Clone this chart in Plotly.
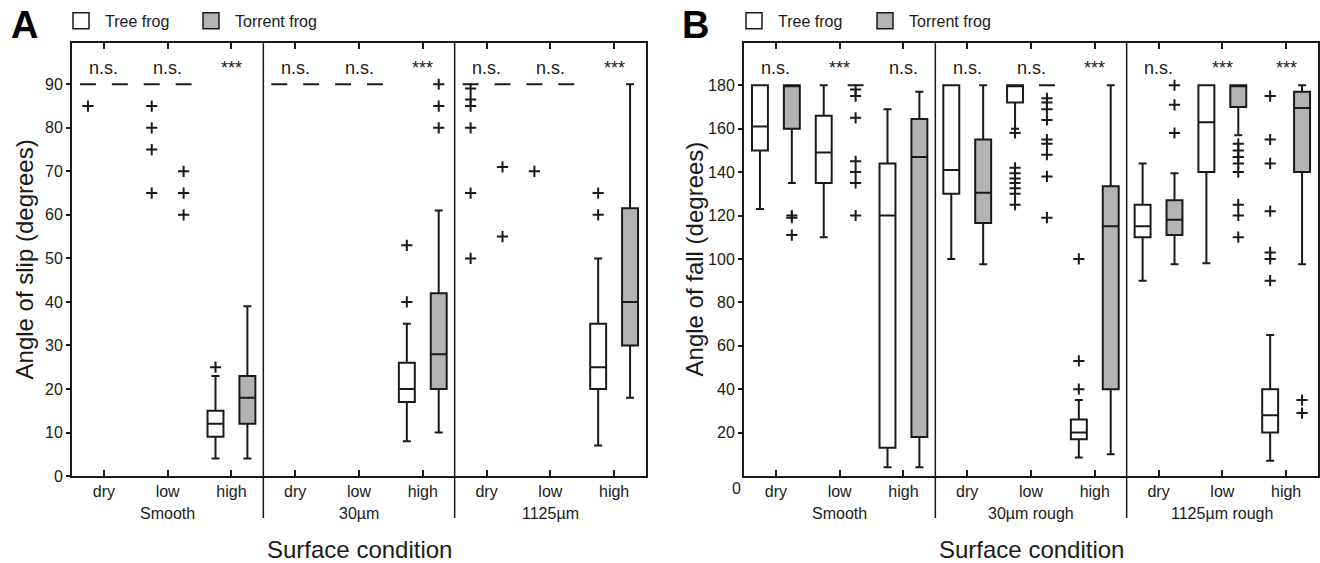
import plotly.graph_objects as go

# ---------------- data ----------------
conditions = ["dry", "low", "high"]
surfaces_A = ["Smooth", "30µm", "1125µm"]
surfaces_B = ["Smooth", "30µm rough", "1125µm rough"]
species = ["Tree frog", "Torrent frog"]

# Panel A: angle of slip (order: Smooth dry/low/high, 30µm dry/low/high, 1125µm dry/low/high)
A_tree_q1 = [90, 90, 9, 90, 90, 17, 90, 90, 20]
A_tree_med = [90, 90, 12, 90, 90, 20, 90, 90, 25]
A_tree_q3 = [90, 90, 15, 90, 90, 26, 90, 90, 35]
A_tree_lo = [90, 90, 4, 90, 90, 8, 90, 90, 7]
A_tree_hi = [90, 90, 23, 90, 90, 35, 90, 90, 50]
A_tree_out = [[85], [85, 80, 75, 65], [25], [], [], [53, 40],
              [89, 86.5, 85, 80, 65, 50], [70], [65, 60]]

A_tor_q1 = [90, 90, 12, 90, 90, 20, 90, 90, 30]
A_tor_med = [90, 90, 18, 90, 90, 28, 90, 90, 40]
A_tor_q3 = [90, 90, 23, 90, 90, 42, 90, 90, 61.5]
A_tor_lo = [90, 90, 4, 90, 90, 10, 90, 90, 18]
A_tor_hi = [90, 90, 39, 90, 90, 61, 90, 90, 90]
A_tor_out = [[], [70, 65, 60], [], [], [], [90, 85, 80], [71, 55], [], []]

A_sig = ["n.s.", "n.s.", "***", "n.s.", "n.s.", "***", "n.s.", "n.s.", "***"]
A_yticks = [0, 10, 20, 30, 40, 50, 60, 70, 80, 90]

# Panel B: angle of fall
B_tree_q1 = [150, 135, 13, 130, 172, 17, 110, 140, 20]
B_tree_med = [161, 149, 120, 141, 180, 20, 115, 163, 28]
B_tree_q3 = [180, 166, 144, 180, 180, 26, 125, 180, 40]
B_tree_lo = [123, 110, 4, 100, 160, 8.5, 90, 98, 7]
B_tree_hi = [180, 180, 169, 180, 180, 35, 144, 180, 65]
B_tree_out = [[], [], [], [], [158, 142, 139.5, 137, 135, 132.5, 130, 125],
              [100, 53, 40], [], [], [175, 155, 144, 122, 103, 100, 90]]

B_tor_q1 = [160, 180, 18, 116.5, 180, 40, 111, 170, 140]
B_tor_med = [180, 180, 147, 130.5, 180, 115, 118, 180, 169.5]
B_tor_q3 = [180, 180, 164.5, 155, 180, 133.5, 127, 180, 177]
B_tor_lo = [135, 180, 4, 97.5, 180, 10, 97.5, 157, 97.5]
B_tor_hi = [180, 180, 177, 180, 180, 180, 139.5, 180, 180]
B_tor_out = [[120, 119, 111], [178, 175, 165, 145, 140, 135, 120], [], [],
             [174, 172, 169, 164, 155, 153, 148, 138, 119], [],
             [180, 171, 158], [153, 150, 147, 144, 140, 125, 120, 110], [35, 29]]

B_sig = ["n.s.", "***", "n.s.", "n.s.", "n.s.", "***", "n.s.", "***", "***"]
B_yticks = [20, 40, 60, 80, 100, 120, 140, 160, 180]

# ---------------- styling ----------------
W, H = 1320, 563
YS = 0.986  # vertical scale observed between the page and the captured picture
FONT = "Liberation Sans, Arial, sans-serif"
INK = "#1a1a1a"
TREE_FILL = "#ffffff"
TOR_FILL = "#b3b3b3"
OFFSET = 0.25
BOXW = 0.25


def px_x(p):
    return p / W


def px_y(p):
    return 1 - (p / YS) / H


fig = go.Figure()


def add_boxes(xa, ya, q1, med, q3, lo, hi, out, fill, offset):
    xs = [i + 1 + offset for i in range(len(q1))]
    fig.add_trace(go.Box(
        x=xs, q1=q1, median=med, q3=q3, lowerfence=lo, upperfence=hi,
        width=BOXW, whiskerwidth=0.5, fillcolor=fill,
        line=dict(color=INK, width=2), boxpoints=False,
        xaxis=xa, yaxis=ya, showlegend=False, hoverinfo="skip"))
    ox, oy = [], []
    for i, vals in enumerate(out):
        for v in vals:
            ox.append(i + 1 + offset)
            oy.append(v)
    fig.add_trace(go.Scatter(
        x=ox, y=oy, mode="markers", xaxis=xa, yaxis=ya, showlegend=False,
        marker=dict(symbol="cross-thin", size=8, color=INK,
                    line=dict(width=2, color=INK)),
        hoverinfo="skip"))


add_boxes("x", "y", A_tree_q1, A_tree_med, A_tree_q3, A_tree_lo, A_tree_hi, A_tree_out, TREE_FILL, -OFFSET)
add_boxes("x", "y", A_tor_q1, A_tor_med, A_tor_q3, A_tor_lo, A_tor_hi, A_tor_out, TOR_FILL, OFFSET)
add_boxes("x2", "y2", B_tree_q1, B_tree_med, B_tree_q3, B_tree_lo, B_tree_hi, B_tree_out, TREE_FILL, -OFFSET)
add_boxes("x2", "y2", B_tor_q1, B_tor_med, B_tor_q3, B_tor_lo, B_tor_hi, B_tor_out, TOR_FILL, OFFSET)

# legend entries: one legend per entry so each key can be placed like the original
legend_slots = [("legend", "x", "y", 0), ("legend2", "x", "y", 1),
                ("legend3", "x2", "y2", 0), ("legend4", "x2", "y2", 1)]
fills = [TREE_FILL, TOR_FILL]
for lg, xa, ya, k in legend_slots:
    fig.add_trace(go.Scatter(
        x=[None], y=[None], mode="markers", name=species[k], legend=lg,
        xaxis=xa, yaxis=ya,
        marker=dict(symbol="square", size=16, color=fills[k],
                    line=dict(width=1.5, color=INK))))

ticktext = conditions * 3
tickvals = list(range(1, 10))
xdomA = [px_x(72), px_x(646)]
xdomB = [px_x(744), px_x(1318)]
ydom = [px_y(477), px_y(43)]

common_x = dict(range=[0.5, 9.5], tickvals=tickvals, ticktext=ticktext,
                ticks="inside", ticklen=6, tickwidth=1.5, tickcolor=INK,
                showline=True, linewidth=2, linecolor=INK, mirror="ticks",
                showgrid=False, zeroline=False,
                tickfont=dict(size=16, color=INK, family=FONT))
common_y = dict(ticks="outside", ticklen=4, tickwidth=1.5, tickcolor=INK,
                showline=True, linewidth=2, linecolor=INK, mirror=True,
                showgrid=False, zeroline=False, domain=ydom,
                tickfont=dict(size=16, color=INK, family=FONT))
right_y = dict(side="right", ticks="inside", ticklen=6, tickwidth=1.5,
               tickcolor=INK, showticklabels=False, showline=False,
               showgrid=False, zeroline=False)

legend_common = dict(orientation="h", xanchor="left", yanchor="middle",
                     font=dict(size=16, family=FONT, color=INK),
                     itemwidth=38, bgcolor="rgba(0,0,0,0)", y=px_y(21))
legend_x = {"legend": 57, "legend2": 187, "legend3": 730, "legend4": 861}

A_RANGE = [0, 99.5]
B_RANGE = [0, 199.5]

fig.update_layout(
    width=W, height=H,
    margin=dict(l=0, r=0, t=0, b=0),
    paper_bgcolor="white", plot_bgcolor="white",
    font=dict(family=FONT, color=INK),
    xaxis=dict(domain=xdomA, anchor="y", **common_x),
    xaxis2=dict(domain=xdomB, anchor="y2", **common_x),
    yaxis=dict(anchor="x", range=A_RANGE, tickvals=A_yticks, **common_y),
    yaxis2=dict(anchor="x2", range=B_RANGE, tickvals=B_yticks, **common_y),
    yaxis3=dict(overlaying="y", anchor="x", range=A_RANGE, tickvals=A_yticks, **right_y),
    yaxis4=dict(overlaying="y2", anchor="x2", range=B_RANGE, tickvals=B_yticks, **right_y),
    showlegend=True,
)
fig.update_layout({lg: dict(x=px_x(xp), **legend_common) for lg, xp in legend_x.items()})

annotations = []
shapes = []
for xr, yr, sig, surfaces in (("x", "y", A_sig, surfaces_A), ("x2", "y2", B_sig, surfaces_B)):
    for i, s in enumerate(sig):
        annotations.append(dict(x=i + 1, y=0.942, xref=xr, yref=yr + " domain", text=s,
                                showarrow=False, yanchor="middle",
                                font=dict(size=18, family=FONT, color=INK)))
    for g, name in enumerate(surfaces):
        annotations.append(dict(x=3 * g + 2, y=px_y(515), xref=xr, yref="paper", text=name,
                                showarrow=False, yanchor="middle",
                                font=dict(size=16, family=FONT, color=INK)))
    for d in (3.5, 6.5):
        shapes.append(dict(type="line", xref=xr, yref=yr + " domain", x0=d, x1=d,
                           y0=-0.097, y1=1, line=dict(color=INK, width=1.5)))

annotations += [
    dict(x=5, y=px_y(551), xref="x", yref="paper", text="Surface condition", showarrow=False,
         yanchor="middle", font=dict(size=24, family=FONT, color=INK)),
    dict(x=5, y=px_y(551), xref="x2", yref="paper", text="Surface condition", showarrow=False,
         yanchor="middle", font=dict(size=24, family=FONT, color=INK)),
    dict(x=px_x(24), y=px_y(260), xref="paper", yref="paper", text="Angle of slip (degrees)",
         textangle=-90, showarrow=False, xanchor="center", yanchor="middle",
         font=dict(size=24, family=FONT, color=INK)),
    dict(x=px_x(694), y=px_y(260), xref="paper", yref="paper", text="Angle of fall (degrees)",
         textangle=-90, showarrow=False, xanchor="center", yanchor="middle",
         font=dict(size=24, family=FONT, color=INK)),
    dict(x=px_x(24), y=px_y(25), xref="paper", yref="paper", text="<b>A</b>", showarrow=False,
         xanchor="center", yanchor="middle", font=dict(size=38, family=FONT, color="black")),
    dict(x=px_x(696), y=px_y(25), xref="paper", yref="paper", text="<b>B</b>", showarrow=False,
         xanchor="center", yanchor="middle", font=dict(size=38, family=FONT, color="black")),
    dict(x=px_x(736), y=px_y(489), xref="paper", yref="paper", text="0", showarrow=False,
         xanchor="center", yanchor="middle", font=dict(size=16, family=FONT, color=INK)),
]

fig.update_layout(annotations=annotations, shapes=shapes)
# remove the browser's default 8px page margin so the figure sits at the window origin
fig.write_html("out.html", config={"displayModeBar": False},
               post_script="document.body.style.margin='0';")
